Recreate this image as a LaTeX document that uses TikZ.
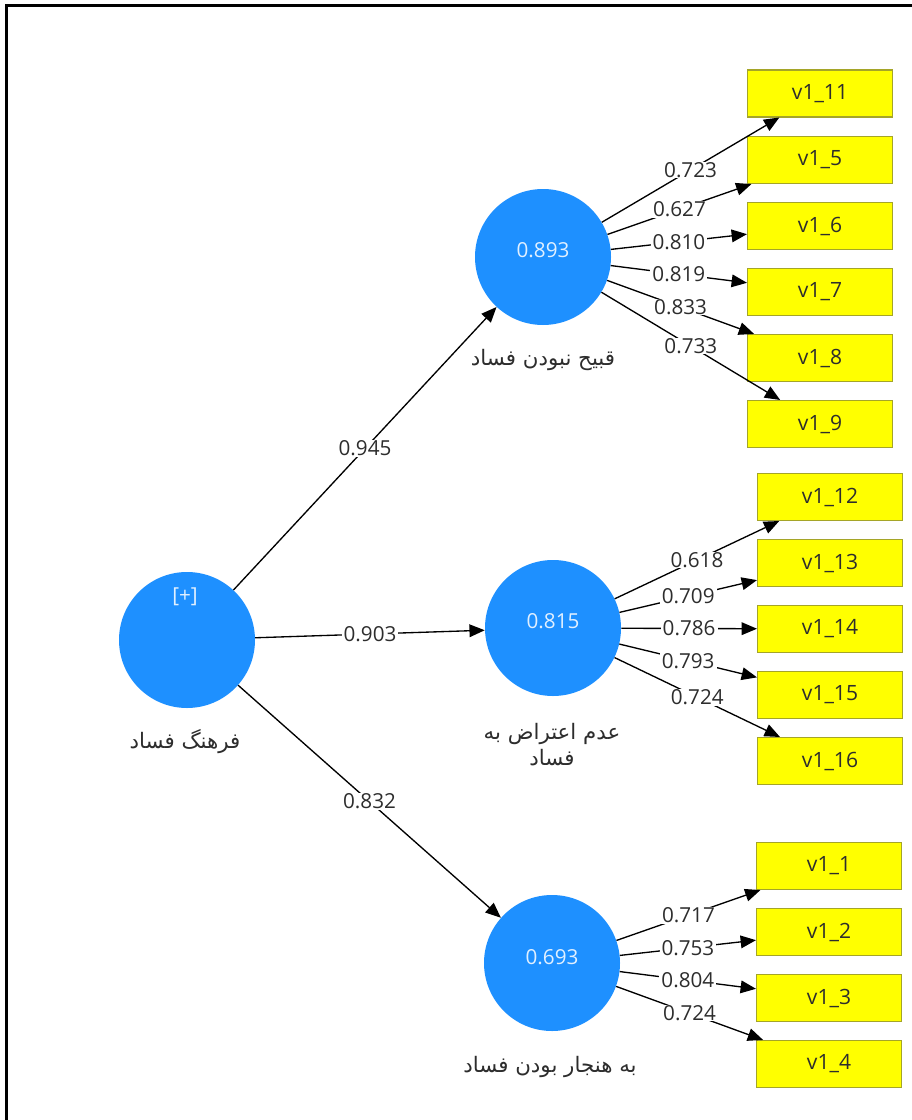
\documentclass[tikz,border=0pt]{standalone}
\usepackage{fontspec}
\setmainfont{Open Sans}
\newfontfamily\arabicfont[Script=Arabic]{DejaVu Sans}
\TeXXeTstate=1
\usetikzlibrary{arrows.meta}
\definecolor{lvblue}{RGB}{30,144,255}
\definecolor{lvtext}{RGB}{225,240,255}
\definecolor{boxyellow}{RGB}{255,255,0}
\definecolor{boxedge}{RGB}{165,165,40}
\definecolor{txt}{RGB}{45,45,45}
\tikzset{
  lv/.style={circle, fill=lvblue, minimum size=102pt, inner sep=0pt},
  mv/.style={rectangle, fill=boxyellow, draw=boxedge, line width=0.8pt,
    minimum width=108.75pt, minimum height=35.25pt, inner sep=0pt,
    font=\fontsize{15.8}{17}\selectfont, text=txt},
  pathline/.style={draw=black, line width=1pt, -{Triangle[length=11.5pt,width=9.5pt]}},
  wt/.style={fill=white, inner xsep=1.5pt, inner ysep=0.5pt, font=\fontsize{15.5}{17}\selectfont, text=txt},
  lvnum/.style={text=lvtext, font=\fontsize{15.5}{17}\selectfont},
  lvname/.style={font=\arabicfont\fontsize{16}{19.5}\selectfont, text=txt, align=center},
}
\begin{document}
\begin{tikzpicture}[x=0.75pt,y=-0.75pt]
\useasboundingbox (0,0) rectangle (912,1120);
\fill[white] (0,0) rectangle (912,1120);
\draw[line width=2.2pt] (6.5,1120) -- (6.5,5.5) -- (912,5.5);

% latent variables
\node[lv] (c0) at (187,640) {};
\node[lv] (c1) at (543,257) {};
\node[lv] (c2) at (553,628) {};
\node[lv] (c3) at (552,963) {};

\node[lvnum] (p0) at (185,597) {[+]};
\node[lvnum] (n1) at (543,250) {0.893};
\node[lvnum] (n2) at (553,621) {0.815};
\node[lvnum] (n3) at (552,957) {0.693};

\node[lvname] (l0) at (185,742) {\beginR فرهنگ فساد\endR};
\node[lvname] (l1) at (543,360) {\beginR قبیح نبودن فساد\endR};
\node[lvname] (l2) at (552,745) {\beginR عدم اعتراض به\endR\\\beginR فساد\endR};
\node[lvname] (l3) at (550,1067) {\beginR به هنجار بودن فساد\endR};

% indicators group 1
\node[mv] (b11) at (820,93.5) {v1\_11};
\node[mv] (b5)  at (820,160) {v1\_5};
\node[mv] (b6)  at (820,226) {v1\_6};
\node[mv] (b7)  at (820,292) {v1\_7};
\node[mv] (b8)  at (820,358) {v1\_8};
\node[mv] (b9)  at (820,424) {v1\_9};
% group 2
\node[mv] (b12) at (830,497) {v1\_12};
\node[mv] (b13) at (830,563) {v1\_13};
\node[mv] (b14) at (830,629) {v1\_14};
\node[mv] (b15) at (830,695) {v1\_15};
\node[mv] (b16) at (830,761) {v1\_16};
% group 3
\node[mv] (b1) at (829,866) {v1\_1};
\node[mv] (b2) at (829,932) {v1\_2};
\node[mv] (b3) at (829,998) {v1\_3};
\node[mv] (b4) at (829,1064) {v1\_4};

% structural paths
\draw[pathline] (c0) -- node[wt]{0.945} (c1);
\draw[pathline] (c0) -- node[wt]{0.903} (c2);
\draw[pathline] (c0) -- node[wt]{0.832} (c3);

% outer loadings
\draw[pathline] (c1) -- node[wt]{0.723} (b11);
\draw[pathline] (c1) -- node[wt]{0.627} (b5);
\draw[pathline] (c1) -- node[wt]{0.810} (b6);
\draw[pathline] (c1) -- node[wt]{0.819} (b7);
\draw[pathline] (c1) -- node[wt]{0.833} (b8);
\draw[pathline] (c1) -- node[wt]{0.733} (b9);

\draw[pathline] (c2) -- node[wt]{0.618} (b12);
\draw[pathline] (c2) -- node[wt]{0.709} (b13);
\draw[pathline] (c2) -- node[wt]{0.786} (b14);
\draw[pathline] (c2) -- node[wt]{0.793} (b15);
\draw[pathline] (c2) -- node[wt]{0.724} (b16);

\draw[pathline] (c3) -- node[wt]{0.717} (b1);
\draw[pathline] (c3) -- node[wt]{0.753} (b2);
\draw[pathline] (c3) -- node[wt]{0.804} (b3);
\draw[pathline] (c3) -- node[wt]{0.724} (b4);
\end{tikzpicture}
\end{document}
